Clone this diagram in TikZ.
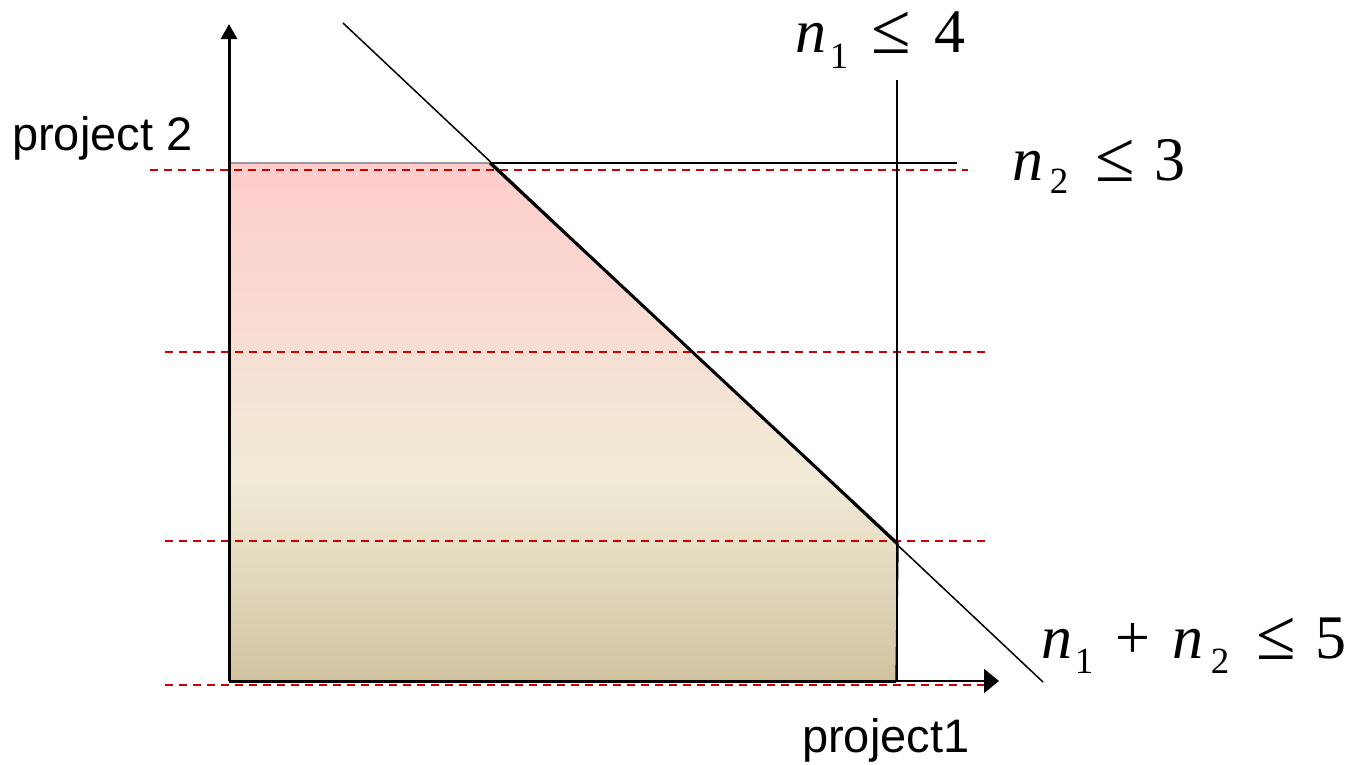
\documentclass[tikz,border=0pt]{standalone}
\usepackage{fontspec}
\setmainfont{Liberation Serif}
\newfontfamily\arialfont{Liberation Sans}
\usetikzlibrary{arrows.meta}
\definecolor{pinktop}{RGB}{255,204,204}
\definecolor{creammid}{RGB}{241,235,215}
\definecolor{tanbot}{RGB}{209,195,160}
\definecolor{dashred}{RGB}{204,0,0}
\pgfdeclareverticalshading{regionshade}{100bp}{color(0bp)=(tanbot); color(25bp)=(tanbot); color(44.5bp)=(creammid); color(75bp)=(pinktop); color(100bp)=(pinktop)}
\tikzset{
  thinline/.style={line width=1.5pt, black},
  thickline/.style={line width=3pt, black},
  reddash/.style={line width=1.6pt, dashred, dash pattern=on 8pt off 6pt},
  eq/.style={anchor=base, inner sep=0pt, font=\fontsize{62}{62}\selectfont},
  eqit/.style={eq, font=\fontsize{62}{62}\selectfont\itshape},
  eqsub/.style={anchor=base, inner sep=0pt, font=\fontsize{37}{37}\selectfont},
  eqrel/.style={anchor=base, inner sep=0pt, font=\fontsize{72}{72}\selectfont},
  axlabel/.style={anchor=base west, inner sep=0pt, font=\arialfont\fontsize{47}{47}\selectfont}
}
\begin{document}
\begin{tikzpicture}[x=1pt, y=-1pt]
\useasboundingbox (0,0) rectangle (1350,764);
% key coordinates
\coordinate (O) at (229,681);
\coordinate (Ytip) at (229,24);
\coordinate (Xtip) at (999,681);
\coordinate (TL) at (229,163);
\coordinate (TC) at (490,163);
\coordinate (BR) at (898,544);
\coordinate (BB) at (896,681);
\coordinate (Dstart) at (343,23);
\coordinate (Dend) at (1043,682);
\coordinate (Hend) at (957,163);
\coordinate (Vtop) at (897,80);
\coordinate (Vbot) at (897,681);
% shaded feasible region
\shade[shading=regionshade] (TL) -- (TC) -- (BR) -- (BB) -- (O) -- cycle;
\draw[line width=1.5pt, black!40] (TL) -- (TC);
% red dashed lines
\coordinate (r1a) at (150,170); \coordinate (r1b) at (968,170);
\coordinate (r2a) at (165,352); \coordinate (r2b) at (985,352);
\coordinate (r3a) at (165,541); \coordinate (r3b) at (985,541);
\coordinate (r4a) at (165,685); \coordinate (r4b) at (985,685);
\draw[reddash] (r1a) -- (r1b);
\draw[reddash] (r2a) -- (r2b);
\draw[reddash] (r3a) -- (r3b);
\draw[reddash] (r4a) -- (r4b);
% constraint lines
\draw[thinline] (Dstart) -- (Dend);
\draw[thinline] (TC) -- (Hend);
\draw[thinline] (Vtop) -- (Vbot);
\draw[thickline] (TC) -- (BR);
\draw[thinline] (BR) -- (BB);
\draw[thickline] (O) -- (BB);
% axes
\draw[thinline, -{Triangle[length=15pt,width=24pt]}] (BB) -- (Xtip);
\draw[thickline, -{Triangle[length=15pt,width=16pt]}] (O) -- (Ytip);
% axis labels
\node[axlabel] (ylab) at (12,150) {project 2};
\node[axlabel] (xlab) at (802,752) {project1};
% n1 <= 4
\node[eqit]  (c1n) at (811,52) {n};
\node[eqsub] (c1s) at (839,68) {1};
\node[eqrel] (c1r) at (891,53) {≤};
\node[eq]    (c1v) at (950,52) {4};
% n2 <= 3
\node[eqit]  (c2n) at (1028,180) {n};
\node[eqsub] (c2s) at (1059,193) {2};
\node[eqrel] (c2r) at (1115,181) {≤};
\node[eq]    (c2v) at (1170,180) {3};
% n1 + n2 <= 5
\node[eqit]  (c3n) at (1057,658) {n};
\node[eqsub] (c3s) at (1084,673) {1};
\node[eq]    (c3p) at (1133,658) {+};
\node[eqit]  (c3m) at (1188,658) {n};
\node[eqsub] (c3t) at (1220,673) {2};
\node[eqrel] (c3r) at (1276,659) {≤};
\node[eq]    (c3v) at (1331,658) {5};
\end{tikzpicture}
\end{document}
